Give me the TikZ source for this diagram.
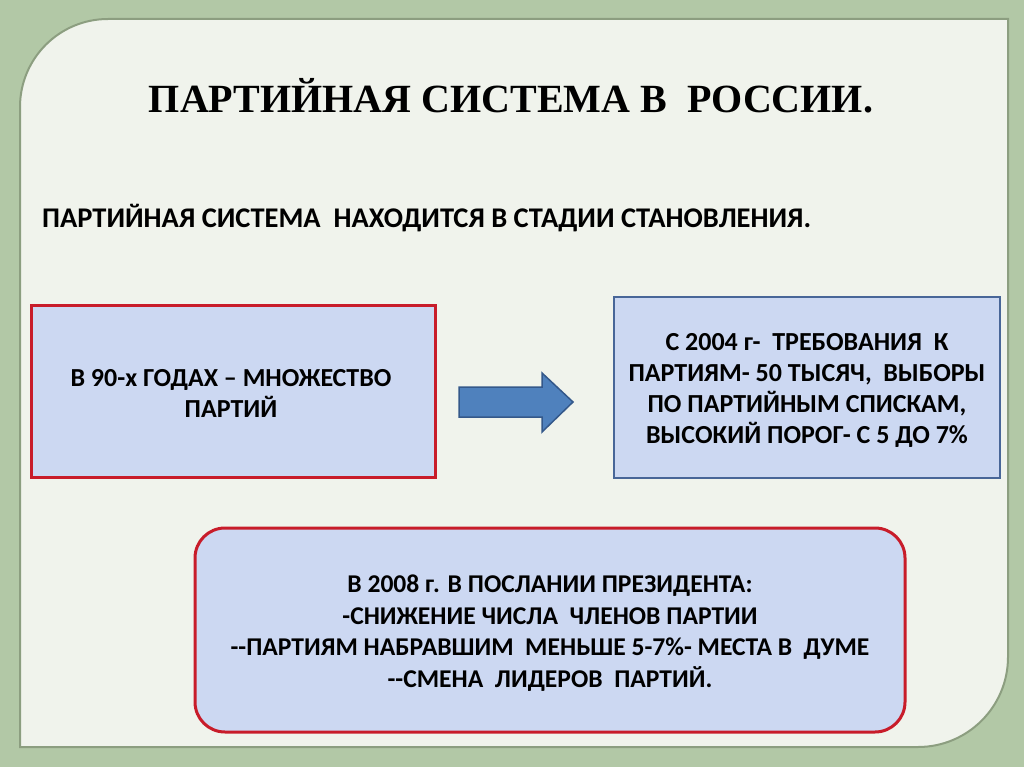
\documentclass[tikz,border=0pt]{standalone}
\usepackage{fontspec}
\setmainfont{Carlito}
\newfontfamily\titlefont{Liberation Serif}
\definecolor{bggreen}{RGB}{178,200,166}
\definecolor{panelfill}{RGB}{240,243,236}
\definecolor{paneledge}{RGB}{140,158,128}
\definecolor{boxfill}{RGB}{204,216,242}
\definecolor{redline}{RGB}{200,28,42}
\definecolor{blueline}{RGB}{72,102,152}
\definecolor{arrowfill}{RGB}{79,129,189}
\definecolor{arrowedge}{RGB}{52,88,138}
\tikzset{
  panel/.style={fill=panelfill, draw=paneledge, line width=2pt},
  redbox/.style={fill=boxfill, draw=redline, line width=3pt, inner sep=0pt},
  bluebox/.style={fill=boxfill, draw=blueline, line width=2.5pt, inner sep=0pt},
  boxtext/.style={align=center, font=\bfseries\fontsize{26}{31}\selectfont, text=black},
  bigarrow/.style={fill=arrowfill, draw=arrowedge, line width=1.5pt, line join=miter}
}
\begin{document}
\begin{tikzpicture}[x=1pt,y=-1pt]
\useasboundingbox (0,0) rectangle (1024,767);
\fill[bggreen] (0,0) rectangle (1024,767);
\draw[panel] (20,400) [rounded corners=88pt] -- (20,19) -- (600,19) [sharp corners] -- (1008,19) -- (1008,400) [rounded corners=90pt] -- (1008,747) -- (600,747) [sharp corners] -- (20,747) -- cycle;

\node[font=\titlefont\bfseries\fontsize{40}{46}\selectfont, anchor=center] (title) at (511,96) {ПАРТИЙНАЯ СИСТЕМА В\ \ РОССИИ.};
\node[font=\bfseries\fontsize{28.5}{32}\selectfont, anchor=base west, inner sep=0pt] (subtitle) at (42,228) {ПАРТИЙНАЯ СИСТЕМА\ \ НАХОДИТСЯ В СТАДИИ СТАНОВЛЕНИЯ.};

\node[redbox, minimum width=404pt, minimum height=172pt] (left) at (233,391) {};
\node[boxtext] (lefttext) at (231,393) {В 90-х ГОДАХ – МНОЖЕСТВО\\ПАРТИЙ};

\node[bluebox, minimum width=386pt, minimum height=181pt] (right) at (807,387.5) {};
\node[boxtext] (righttext) at (807,390) {С 2004 г-\ \ ТРЕБОВАНИЯ\ \ К\\ПАРТИЯМ- 50 ТЫСЯЧ,\ \ ВЫБОРЫ\\ПО ПАРТИЙНЫМ СПИСКАМ,\\ВЫСОКИЙ ПОРОГ- С 5 ДО 7\%};

\node[redbox, rounded corners=30pt, minimum width=710pt, minimum height=204pt] (bottom) at (550,630) {};
\node[boxtext, font=\bfseries\fontsize{25.6}{31.7}\selectfont] (bottomtext) at (550,633) {В 2008 г. В ПОСЛАНИИ ПРЕЗИДЕНТА:\\-СНИЖЕНИЕ ЧИСЛА\ \ ЧЛЕНОВ ПАРТИИ\\-{}-ПАРТИЯМ НАБРАВШИМ\ \ МЕНЬШЕ 5-7\%- МЕСТА В\ \ ДУМЕ\\-{}-СМЕНА\ \ ЛИДЕРОВ\ \ ПАРТИЙ.};

\draw[bigarrow] (459,387) -- (542,387) -- (542,373) -- (573,402) -- (542,432) -- (542,417) -- (459,417) -- cycle;
\end{tikzpicture}
\end{document}
